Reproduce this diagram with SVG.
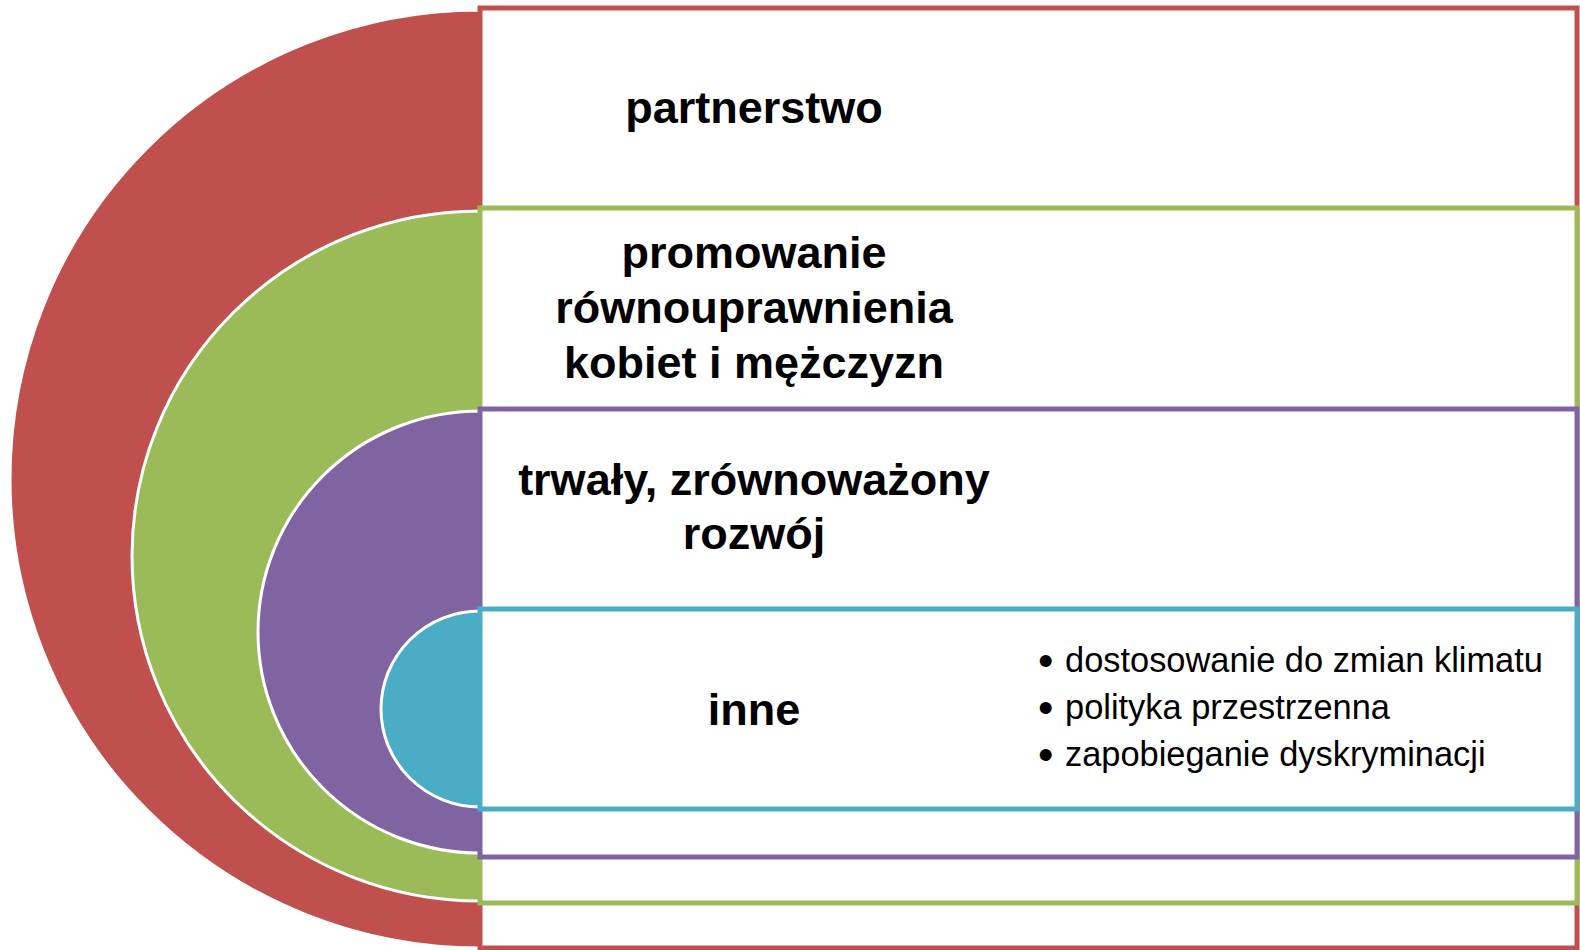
<svg xmlns="http://www.w3.org/2000/svg" width="1580" height="950" viewBox="0 0 1580 950">
<style>
.semi{stroke:#fff;stroke-width:3}
.box{fill:#fff;stroke-width:5}
.t{font-family:"Liberation Sans",Arial,sans-serif;font-weight:bold;font-size:45px;fill:#000;text-anchor:middle}
.b{font-family:"Liberation Sans",Arial,sans-serif;font-size:34.4px;fill:#000}
.d{font-size:44px}
</style>
<rect width="1580" height="950" fill="#fff"/>
<g id="node-partnerstwo">
<path class="semi" d="M480,10 A470,469 0 0 0 480,948 Z" fill="#C0504D"/>
<rect class="box" x="480" y="8" width="1097" height="940" stroke="#C0504D"/>
<text class="t" x="754" y="123">partnerstwo</text>
</g>
<g id="node-rownouprawnienie">
<path class="semi" d="M480,211 A348,345 0 0 0 480,901 Z" fill="#9BBB59"/>
<rect class="box" x="480" y="208" width="1097" height="695" stroke="#9BBB59"/>
<text class="t" x="754" y="268">promowanie</text>
<text class="t" x="754" y="323">równouprawnienia</text>
<text class="t" x="754" y="378">kobiet i mężczyzn</text>
</g>
<g id="node-rozwoj">
<path class="semi" d="M480,411 A222,221 0 0 0 480,853 Z" fill="#8064A2"/>
<rect class="box" x="480" y="409" width="1097" height="448" stroke="#8064A2"/>
<text class="t" x="754" y="495">trwały, zrównoważony</text>
<text class="t" x="754" y="549">rozwój</text>
</g>
<g id="node-inne">
<path class="semi" d="M480,611 A99,98 0 0 0 480,807 Z" fill="#4BACC6"/>
<rect class="box" x="480" y="609" width="1097" height="200" stroke="#4BACC6"/>
<text class="t" x="754" y="725">inne</text>
<text class="b" x="1038" y="672"><tspan class="d" y="676">•</tspan><tspan x="1065" y="672">dostosowanie do zmian klimatu</tspan></text>
<text class="b" x="1038" y="719"><tspan class="d" y="723">•</tspan><tspan x="1065" y="719">polityka przestrzenna</tspan></text>
<text class="b" x="1038" y="766"><tspan class="d" y="770">•</tspan><tspan x="1065" y="766">zapobieganie dyskryminacji</tspan></text>
</g>
<g id="connectors"></g>
</svg>
